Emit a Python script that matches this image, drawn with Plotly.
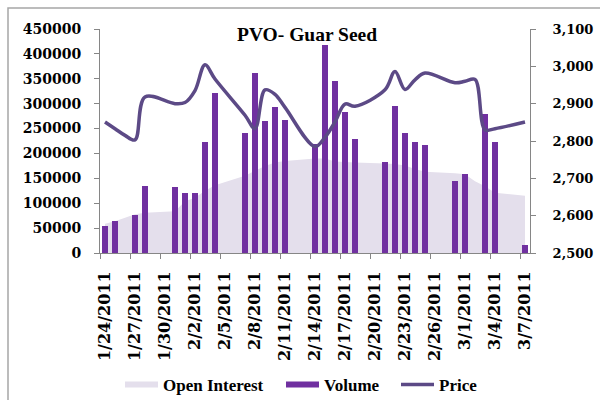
import plotly.graph_objects as go

dates = ["2011-01-24", "2011-01-25", "2011-01-26", "2011-01-27", "2011-01-28",
         "2011-01-31", "2011-02-01", "2011-02-02", "2011-02-03", "2011-02-04",
         "2011-02-07", "2011-02-08", "2011-02-09", "2011-02-10", "2011-02-11",
         "2011-02-14", "2011-02-15", "2011-02-16", "2011-02-17", "2011-02-18",
         "2011-02-21", "2011-02-22", "2011-02-23", "2011-02-24", "2011-02-25",
         "2011-02-28", "2011-03-01", "2011-03-02", "2011-03-03", "2011-03-04",
         "2011-03-07"]

volume = [54000, 65000, None, 76000, 135000,
          132000, 121000, 121000, 224000, 321000,
          241000, 361000, 266000, 293000, 268000,
          219000, 417000, 345000, 283000, 230000,
          183000, 295000, 241000, 222000, 216000,
          144000, 158000, None, 280000, 224000,
          15500]

price = [2851, 2833, 2815, 2803, 2918,
         2900, 2903, 2935, 3004, 2966,
         2869, 2833, 2937, 2925, 2890,
         2785, 2810, 2851, 2899, 2893,
         2937, 2986, 2938, 2964, 2982,
         2956, 2960, 2965, 2830, 2833,
         2851]

open_interest = [59000, 64000, 71000, 78000, 81000,
                 84000, 104000, 111000, 125000, 136000,
                 155000, 165000, 175000, 182000, 185000,
                 190000, 190000, 184000, 183000, 182000,
                 180000, 179000, 176000, 169000, 163000,
                 160000, 158000, 144000, 134000, 121000,
                 115000]

DAY = 86400000
axis_col = "#868686"
vol_color = "#7030a0"
oi_color = "#e4dfec"
price_color = "#5c4a86"
leg_font = dict(family="Liberation Serif", size=17, color="#000000", weight="bold")


def px_x(p):
    return (p - 100) / 430


def px_y(p):
    return (253 - p) / 224


fig = go.Figure()
fig.add_trace(go.Scatter(
    x=dates, y=open_interest, name="Open Interest", mode="none",
    fill="tozeroy", fillcolor=oi_color, yaxis="y", legend="legend"))
fig.add_trace(go.Bar(
    x=dates, y=volume, name="Volume", marker=dict(color=vol_color, line=dict(width=0)),
    width=0.6 * DAY, yaxis="y2", showlegend=False, legendgroup="vol"))
# legend swatch for Volume (rectangular like the reference)
fig.add_trace(go.Scatter(
    x=[None], y=[None], name="Volume", mode="none", fill="toself",
    fillcolor=vol_color, yaxis="y2", legend="legend2", legendgroup="vol"))
fig.add_trace(go.Scatter(
    x=dates, y=price, name="Price", mode="lines",
    line=dict(color=price_color, width=3.5, shape="spline", smoothing=1.0),
    yaxis="y3", connectgaps=True, legend="legend3"))

leg_common = dict(orientation="h", xref="container", yref="container",
                  y=1 - 385 / 400, yanchor="middle", xanchor="left",
                  font=leg_font, itemwidth=33, bgcolor="rgba(0,0,0,0)")

fig.update_layout(
    width=600, height=400,
    margin=dict(l=100, r=70, t=29, b=147, autoexpand=False),
    paper_bgcolor="white", plot_bgcolor="white",
    showlegend=True,
    legend=dict(x=120 / 600, **leg_common),
    legend2=dict(x=281 / 600, **leg_common),
    legend3=dict(x=396 / 600, **leg_common),
    xaxis=dict(type="date", range=["2011-01-23 12:00", "2011-03-07 12:00"],
               tick0="2011-01-24", dtick=3 * DAY, tickformat="%-m/%-d/%Y",
               tickangle=-90, ticks="", showgrid=False, zeroline=False,
               showline=True, linecolor=axis_col, linewidth=1,
               tickfont=dict(family="DejaVu Serif", size=16, color="#000000", weight="bold"),
               ticklabelstandoff=11, automargin=False,
               minor=dict(ticks="outside", ticklen=5, tickcolor=axis_col,
                          tick0="2011-01-23 12:00", dtick=3 * DAY, showgrid=False)),
    yaxis=dict(range=[0, 450000], dtick=50000, tickformat="d", showgrid=False,
               zeroline=False, showline=True, linecolor=axis_col, linewidth=1,
               ticks="outside", ticklen=5, tickcolor=axis_col,
               tickfont=dict(family="DejaVu Serif", size=14, color="#000000", weight="bold"),
               ticklabelstandoff=10, automargin=False),
    yaxis2=dict(range=[0, 450000], overlaying="y", visible=False),
    yaxis3=dict(range=[2500, 3100], dtick=100, tickformat=",", overlaying="y",
                side="right", showgrid=False, zeroline=False, showline=True,
                linecolor=axis_col, linewidth=1, ticks="outside", ticklen=5,
                tickcolor=axis_col,
                tickfont=dict(family="DejaVu Serif", size=13, color="#000000", weight="bold"),
                ticklabelstandoff=14, automargin=False),
    bargap=0,
    annotations=[dict(text="PVO- Guar Seed", x=px_x(307), y=px_y(34), xref="paper", yref="paper",
                      xanchor="center", yanchor="middle", showarrow=False,
                      font=dict(family="Liberation Serif", size=19.5, color="#000000",
                                weight="bold"))],
    shapes=[dict(type="rect", xref="paper", yref="paper",
                 x0=px_x(8), x1=px_x(615), y0=px_y(415), y1=px_y(8),
                 line=dict(color="#a6a6a6", width=1.5), fillcolor="rgba(0,0,0,0)",
                 layer="below")],
)

fig.write_html("out.html", config={"displayModeBar": False},
               post_script="document.body.style.margin='0px';")
